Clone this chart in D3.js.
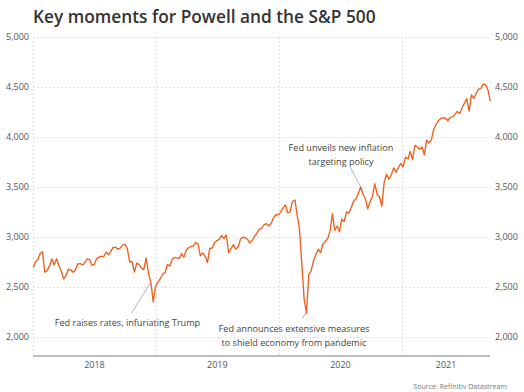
<!DOCTYPE html>
<html>
<head>
<meta charset="utf-8">
<script src="https://cdn.jsdelivr.net/npm/d3@7/dist/d3.min.js"></script>
<style>
  html, body { margin: 0; padding: 0; background: #ffffff; }
  svg { display: block; font-family: "Open Sans", "Noto Sans", sans-serif; }
</style>
</head>
<body>
<svg id="chart" width="524" height="392"></svg>
<script>
// ---- Data: S&P 500, weekly (first trading day of each week) ----
const dates2018 = ["2018-01-02","2018-01-08","2018-01-16","2018-01-22","2018-01-29","2018-02-05","2018-02-12","2018-02-20","2018-02-26","2018-03-05","2018-03-12","2018-03-19","2018-03-26","2018-04-02","2018-04-09","2018-04-16","2018-04-23","2018-04-30","2018-05-07","2018-05-14","2018-05-21","2018-05-29","2018-06-04","2018-06-11","2018-06-18","2018-06-25","2018-07-02","2018-07-09","2018-07-16","2018-07-23","2018-07-30","2018-08-06","2018-08-13","2018-08-20","2018-08-27","2018-09-04","2018-09-10","2018-09-17","2018-09-24","2018-10-01","2018-10-08","2018-10-15","2018-10-22","2018-10-29","2018-11-05","2018-11-12","2018-11-19","2018-11-26","2018-12-03","2018-12-10","2018-12-17","2018-12-24","2018-12-31"];
const values2018 = [2695,2748,2777,2833,2853,2649,2662,2716,2780,2720,2783,2712,2658,2582,2613,2678,2670,2648,2672,2730,2733,2720,2746,2782,2774,2717,2726,2784,2798,2807,2803,2850,2821,2857,2897,2896,2877,2888,2920,2930,2884,2750,2756,2650,2738,2726,2690,2673,2790,2637,2546,2351,2507];

const dates2019 = ["2019-01-07","2019-01-14","2019-01-22","2019-01-28","2019-02-04","2019-02-11","2019-02-19","2019-02-25","2019-03-04","2019-03-11","2019-03-18","2019-03-25","2019-04-01","2019-04-08","2019-04-15","2019-04-22","2019-04-29","2019-05-06","2019-05-13","2019-05-20","2019-05-28","2019-06-03","2019-06-10","2019-06-17","2019-06-24","2019-07-01","2019-07-08","2019-07-15","2019-07-22","2019-07-29","2019-08-05","2019-08-12","2019-08-19","2019-08-26","2019-09-03","2019-09-09","2019-09-16","2019-09-23","2019-09-30","2019-10-07","2019-10-14","2019-10-21","2019-10-28","2019-11-04","2019-11-11","2019-11-18","2019-11-25","2019-12-02","2019-12-09","2019-12-16","2019-12-23","2019-12-30"];
const values2019 = [2549,2583,2633,2643,2725,2709,2780,2796,2792,2783,2833,2798,2867,2895,2905,2908,2943,2932,2812,2840,2802,2744,2886,2890,2945,2964,2976,3014,2985,3020,2844,2883,2924,2878,2906,2979,2998,2992,2977,2939,2967,3006,3039,3078,3087,3122,3134,3113,3136,3191,3224,3221];

const dates2020 = ["2020-01-06","2020-01-13","2020-01-21","2020-01-27","2020-02-03","2020-02-10","2020-02-18","2020-02-24","2020-03-02","2020-03-09","2020-03-16","2020-03-23","2020-03-30","2020-04-06","2020-04-13","2020-04-20","2020-04-27","2020-05-04","2020-05-11","2020-05-18","2020-05-26","2020-06-01","2020-06-08","2020-06-15","2020-06-22","2020-06-29","2020-07-06","2020-07-13","2020-07-20","2020-07-27","2020-08-03","2020-08-10","2020-08-17","2020-08-24","2020-08-31","2020-09-08","2020-09-14","2020-09-21","2020-09-28","2020-10-05","2020-10-12","2020-10-19","2020-10-26","2020-11-02","2020-11-09","2020-11-16","2020-11-23","2020-11-30","2020-12-07","2020-12-14","2020-12-21","2020-12-28"];
const values2020 = [3246,3288,3321,3244,3249,3352,3370,3226,3090,2747,2386,2237,2627,2664,2762,2823,2878,2843,2930,2954,2992,3056,3232,3067,3110,3053,3179,3155,3251,3239,3295,3360,3382,3431,3500,3420,3383,3281,3352,3408,3534,3426,3400,3310,3550,3627,3578,3622,3691,3647,3694,3735];

const dates2021 = ["2021-01-04","2021-01-11","2021-01-19","2021-01-25","2021-02-01","2021-02-08","2021-02-16","2021-02-22","2021-03-01","2021-03-08","2021-03-15","2021-03-22","2021-03-29","2021-04-05","2021-04-12","2021-04-19","2021-04-26","2021-05-03","2021-05-10","2021-05-17","2021-05-24","2021-06-01","2021-06-07","2021-06-14","2021-06-21","2021-06-28","2021-07-06","2021-07-12","2021-07-19","2021-07-26","2021-08-02","2021-08-09","2021-08-16","2021-08-23","2021-08-30","2021-09-07","2021-09-13","2021-09-20"];
const values2021 = [3700,3799,3780,3855,3774,3916,3900,3876,3901,3821,3968,3940,3971,4078,4127,4163,4187,4192,4188,4163,4197,4202,4226,4255,4234,4291,4343,4384,4258,4422,4387,4432,4479,4486,4529,4520,4469,4358];

const yTicks = [2000, 2500, 3000, 3500, 4000, 4500, 5000];
const yearLabels = ["2018", "2019", "2020", "2021"];
const titleText = "Key moments for Powell and the S&P 500";
const sourceText = "Source: Refinitiv Datastream";
const annotationLines = [
  ["Fed raises rates, infuriating Trump"],
  ["Fed announces extensive measures", "to shield economy from pandemic"],
  ["Fed unveils new inflation", "targeting policy"]
];

// ---- Build ----
const parse = d3.timeParse("%Y-%m-%d");
const allDates = [].concat(dates2018, dates2019, dates2020, dates2021);
const allValues = [].concat(values2018, values2019, values2020, values2021);
const data = allDates.map((d, i) => ({ date: parse(d), value: allValues[i] }));

const svg = d3.select("#chart");
const pLeft = 33, pRight = 490, pTop = 37, pBottom = 356;

const x = d3.scaleTime()
  .domain([new Date(2018, 0, 1), new Date(2022, 0, 1)])
  .range([pLeft, pLeft + 492]);
const y = d3.scaleLinear().domain([1810, 5000]).range([pBottom, pTop]);

// title
svg.append("text")
  .attr("x", 33).attr("y", 23)
  .attr("fill", "#333")
  .attr("font-size", 17.3)
  .attr("font-weight", 600)
  .text(titleText);

// horizontal gridlines
svg.append("g").selectAll("line").data(yTicks).join("line")
  .attr("x1", pLeft).attr("x2", pRight)
  .attr("y1", d => Math.round(y(d)) + 0.5).attr("y2", d => Math.round(y(d)) + 0.5)
  .attr("stroke", "#e2e2e2").attr("stroke-width", 1)
  .attr("stroke-dasharray", "2,2");

// vertical gridlines at year starts
const yearStarts = yearLabels.map(t => new Date(+t, 0, 1));
svg.append("g").selectAll("line").data(yearStarts).join("line")
  .attr("x1", d => Math.round(x(d)) + 0.5).attr("x2", d => Math.round(x(d)) + 0.5)
  .attr("y1", pTop).attr("y2", pBottom)
  .attr("stroke", "#e2e2e2").attr("stroke-width", 1)
  .attr("stroke-dasharray", "2,2");

// y labels left and right
const leftAxis = d3.axisLeft(y).tickValues(yTicks).tickSize(0).tickPadding(0).tickFormat(d3.format(","));
const gL = svg.append("g").attr("transform", "translate(29,0)").call(leftAxis);
gL.select(".domain").remove();
gL.selectAll("text").attr("fill", "#555").attr("font-size", 9).attr("font-family", "Open Sans");

const rightAxis = d3.axisRight(y).tickValues(yTicks).tickSize(0).tickPadding(0).tickFormat(d3.format(","));
const gR = svg.append("g").attr("transform", "translate(495,0)").call(rightAxis);
gR.select(".domain").remove();
gR.selectAll("text").attr("fill", "#555").attr("font-size", 9).attr("font-family", "Open Sans");

// bottom axis line
svg.append("line")
  .attr("x1", pLeft).attr("x2", pRight)
  .attr("y1", pBottom).attr("y2", pBottom)
  .attr("stroke", "#a8a8a8").attr("stroke-width", 1.5);

// year labels centered in visible year span
svg.append("g").selectAll("text").data(yearLabels).join("text")
  .attr("x", t => {
    const a = x(new Date(+t, 0, 1));
    const b = Math.min(x(new Date(+t + 1, 0, 1)), pRight);
    return (a + b) / 2;
  })
  .attr("y", 368)
  .attr("text-anchor", "middle")
  .attr("fill", "#555")
  .attr("font-size", 9)
  .text(t => t);

// line
const line = d3.line().x(d => x(d.date)).y(d => y(d.value));
svg.append("path")
  .datum(data)
  .attr("d", line)
  .attr("fill", "none")
  .attr("stroke", "#ef5f1e")
  .attr("stroke-width", 1.35)
  .attr("stroke-linejoin", "round");

// annotations
const annoLayout = [
  { tx: 127.5, ty: 326, lx1: 131.7, ly1: 313, lx2: 150.7, ly2: 282.5 },
  { tx: 294, ty: 331.5, lx1: 302.5, ly1: 318.5, lx2: 305.5, ly2: 313 },
  { tx: 341, ty: 150.5, lx1: 350, ly1: 167, lx2: 360.5, ly2: 186.5 }
];
annotationLines.forEach((lines, i) => {
  const L = annoLayout[i];
  svg.append("line")
    .attr("x1", L.lx1).attr("y1", L.ly1).attr("x2", L.lx2).attr("y2", L.ly2)
    .attr("stroke", "#b5b5b5").attr("stroke-width", 1);
  const t = svg.append("text")
    .attr("text-anchor", "middle")
    .attr("fill", "#444")
    .attr("font-size", 9.1);
  lines.forEach((s, j) => {
    t.append("tspan").attr("x", L.tx).attr("y", L.ty + j * 14.5).text(s);
  });
});

// source
svg.append("text")
  .attr("x", 507).attr("y", 389)
  .attr("text-anchor", "end")
  .attr("fill", "#777")
  .attr("font-size", 7.1)
  .text(sourceText);
</script>
</body>
</html>
